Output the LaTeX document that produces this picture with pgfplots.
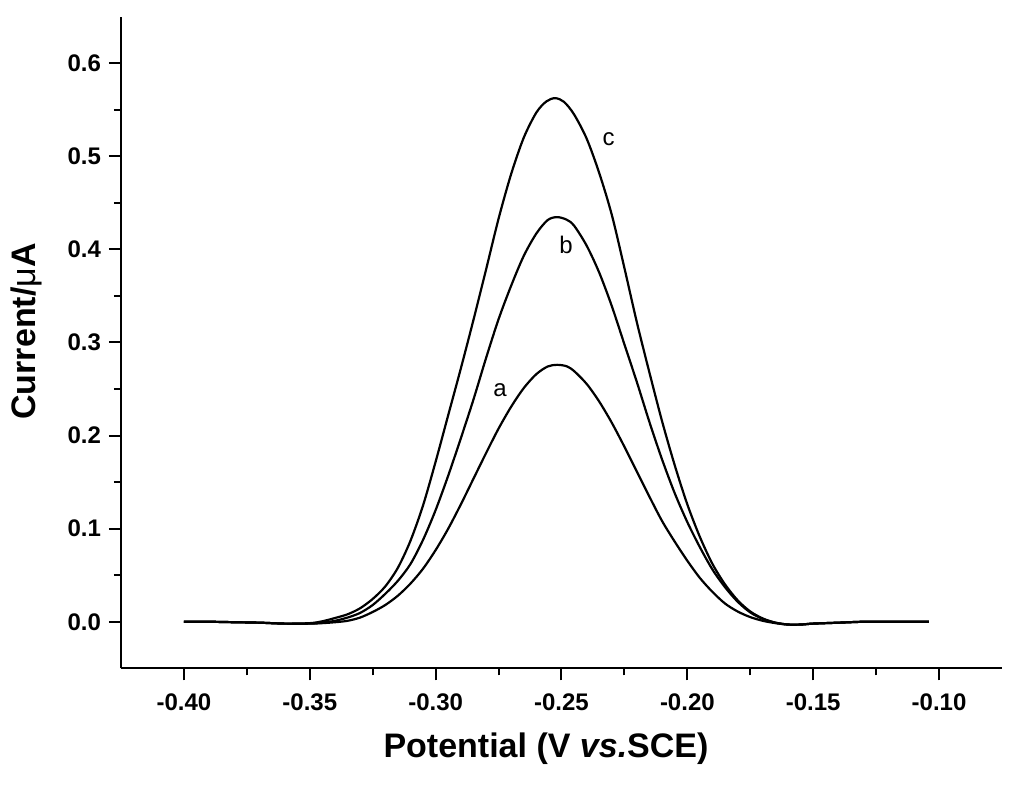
\documentclass[border=0pt]{standalone}
\usepackage{pgfplots}
\pgfplotsset{compat=1.18}
\usepackage{pgfplotstable}
\usepackage{fontspec}
\setmainfont{Liberation Sans}

\pgfplotstableread{
x y
-0.400 0
-0.390 0
-0.380 -0.0005
-0.370 -0.001
-0.360 -0.002
-0.350 -0.002
-0.345 -0.0015
-0.340 -0.0005
-0.335 0.001
-0.330 0.0045
-0.325 0.0105
-0.320 0.018
-0.315 0.028
-0.310 0.041
-0.305 0.057
-0.300 0.077
-0.295 0.100
-0.290 0.126
-0.285 0.1535
-0.280 0.181
-0.275 0.2075
-0.270 0.231
-0.265 0.251
-0.260 0.266
-0.2555 0.2742
-0.2518 0.276
-0.248 0.2745
-0.245 0.2693
-0.240 0.2555
-0.235 0.2365
-0.230 0.2137
-0.225 0.188
-0.220 0.161
-0.215 0.134
-0.210 0.108
-0.205 0.086
-0.200 0.0655
-0.195 0.047
-0.190 0.032
-0.185 0.0195
-0.180 0.011
-0.175 0.005
-0.170 0.001
-0.165 -0.0015
-0.160 -0.003
-0.155 -0.003
-0.150 -0.002
-0.140 -0.001
-0.130 0
-0.120 0
-0.104 0
}\curveA

\pgfplotstableread{
x y
-0.400 0
-0.390 0
-0.380 -0.0005
-0.370 -0.001
-0.360 -0.002
-0.350 -0.002
-0.345 -0.001
-0.340 0.001
-0.335 0.0045
-0.330 0.0095
-0.325 0.018
-0.320 0.030
-0.315 0.044
-0.310 0.062
-0.305 0.088
-0.300 0.120
-0.295 0.157
-0.290 0.197
-0.285 0.2385
-0.280 0.283
-0.275 0.325
-0.270 0.361
-0.265 0.393
-0.260 0.417
-0.2555 0.4315
-0.2518 0.4347
-0.248 0.432
-0.245 0.4255
-0.240 0.404
-0.235 0.375
-0.230 0.339
-0.225 0.298
-0.220 0.257
-0.215 0.214
-0.210 0.174
-0.205 0.138
-0.200 0.107
-0.195 0.080
-0.190 0.056
-0.185 0.037
-0.180 0.0215
-0.175 0.010
-0.170 0.003
-0.165 -0.001
-0.160 -0.003
-0.155 -0.003
-0.150 -0.002
-0.140 -0.001
-0.130 0
-0.120 0
-0.104 0
}\curveB

\pgfplotstableread{
x y
-0.400 0
-0.390 0
-0.380 -0.0005
-0.370 -0.001
-0.360 -0.002
-0.350 -0.0015
-0.345 0.0005
-0.340 0.004
-0.335 0.008
-0.330 0.0145
-0.325 0.0245
-0.320 0.038
-0.315 0.058
-0.310 0.087
-0.305 0.125
-0.300 0.172
-0.295 0.222
-0.290 0.272
-0.285 0.324
-0.280 0.378
-0.275 0.433
-0.270 0.481
-0.265 0.520
-0.260 0.547
-0.256 0.559
-0.2525 0.5625
-0.249 0.5585
-0.245 0.545
-0.240 0.519
-0.235 0.482
-0.230 0.437
-0.225 0.380
-0.220 0.321
-0.215 0.267
-0.210 0.215
-0.205 0.168
-0.200 0.126
-0.195 0.091
-0.190 0.062
-0.185 0.040
-0.180 0.023
-0.175 0.011
-0.170 0.0035
-0.165 -0.001
-0.160 -0.003
-0.155 -0.003
-0.150 -0.002
-0.140 -0.001
-0.130 0
-0.120 0
-0.104 0
}\curveC

\begin{document}
\begin{tikzpicture}
\useasboundingbox (-60.5pt,-64.35pt) rectangle (451.5pt,334.15pt);
\begin{axis}[
  at={(0,0)}, anchor=south west,
  scale only axis,
  width=440.5pt, height=325.8pt,
  xmin=-0.425, xmax=-0.075,
  ymin=-0.05, ymax=0.65,
  axis lines*=left,
  axis line style={line width=1pt},
  tick align=outside,
  major tick length=6pt,
  minor tick length=3.5pt,
  every tick/.style={black, line width=1pt},
  xtick={-0.40,-0.35,-0.30,-0.25,-0.20,-0.15,-0.10},
  ytick={0,0.1,0.2,0.3,0.4,0.5,0.6},
  minor x tick num=1,
  minor y tick num=1,
  /pgf/number format/assume math mode=true,
  xticklabel style={/pgf/number format/.cd, fixed, fixed zerofill, precision=2, /tikz/yshift=-3pt},
  yticklabel style={/pgf/number format/.cd, fixed, fixed zerofill, precision=1, /tikz/xshift=-0.5pt},
  tick label style={font=\fontsize{12}{14}\selectfont\bfseries},
  xlabel={Potential (V \textit{vs.}SCE)},
  ylabel={Current/{\mdseries μ}A},
  xlabel style={font=\fontsize{17}{20}\selectfont\bfseries, at={(axis description cs:0.4824,0)}, anchor=base, yshift=-44.85pt},
  ylabel style={font=\fontsize{17}{20}\selectfont\bfseries, at={(axis description cs:0,0.517)}, anchor=center, yshift=47.5pt},
  clip=false,
]
\addplot[black, line width=1.1pt, smooth] table[x=x,y=y] {\curveA};
\addplot[black, line width=1.1pt, smooth] table[x=x,y=y] {\curveB};
\addplot[black, line width=1.1pt, smooth] table[x=x,y=y] {\curveC};
\node[font=\fontsize{12}{14}\selectfont] at (axis cs:-0.2744,0.249) {a};
\node[font=\fontsize{12}{14}\selectfont] at (axis cs:-0.2482,0.405) {b};
\node[font=\fontsize{12}{14}\selectfont] at (axis cs:-0.2313,0.518) {c};
\end{axis}
\end{tikzpicture}
\end{document}
